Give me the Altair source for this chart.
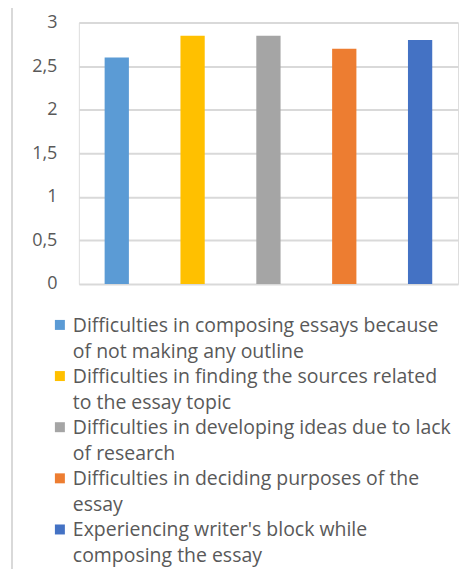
import altair as alt
import pandas as pd

categories = [
    "Difficulties in composing essays because|of not making any outline",
    "Difficulties in finding the sources related|to the essay topic",
    "Difficulties in developing ideas due to lack|of research",
    "Difficulties in deciding purposes of the|essay",
    "Experiencing writer's block while|composing the essay",
]
values = [2.6, 2.85, 2.85, 2.7, 2.8]
colors = ["#5B9BD5", "#FFC000", "#A5A5A5", "#ED7D31", "#4472C4"]
y_ticks = [0, 0.5, 1, 1.5, 2, 2.5, 3]

df = pd.DataFrame({"cat": categories, "value": values})

FONT = "Open Sans"
TXT = "#595959"

bars = alt.Chart(df).mark_bar().encode(
    x=alt.X("cat:N", sort=categories, axis=None,
            scale=alt.Scale(paddingInner=0.68, paddingOuter=0.34)),
    y=alt.Y("value:Q", scale=alt.Scale(domain=[0, 3]),
            axis=alt.Axis(values=y_ticks,
                          labelExpr="replace(format(datum.value, '.1~f'), '.', ',')",
                          title=None, domain=False, ticks=False, labelPadding=22,
                          labelFontSize=18, labelColor=TXT, labelFont=FONT,
                          gridColor="#D9D9D9", gridWidth=2)),
    color=alt.Color("cat:N", sort=categories,
                    scale=alt.Scale(domain=categories, range=colors), legend=None),
)

leg_y = alt.Y("cat:N", sort=categories, axis=None,
              scale=alt.Scale(type="point", range=[303, 508], padding=0))

leg_sq = alt.Chart(df).mark_square(size=100, opacity=1).encode(
    x=alt.value(-19),
    y=leg_y,
    color=alt.Color("cat:N", sort=categories,
                    scale=alt.Scale(domain=categories, range=colors), legend=None),
)

leg_txt = alt.Chart(df).mark_text(
    align="left", baseline="alphabetic", dy=7, lineBreak="|", lineHeight=26,
    font=FONT, fontSize=19.5, color=TXT,
).encode(
    x=alt.value(-6),
    y=leg_y,
    text="cat:N",
)

frame = alt.Chart(pd.DataFrame({"v": [0]})).mark_rule(color="#D9D9D9", strokeWidth=2).encode(
    x=alt.value(-67), y=alt.value(-16), y2=alt.value(600)
)

chart = alt.layer(bars, leg_sq, leg_txt, frame).resolve_scale(y="independent").properties(
    width=380, height=262,
    autosize=alt.AutoSizeParams(type="none"),
    padding={"left": 71, "top": 14, "right": 8, "bottom": 285},
).configure_view(stroke=None).configure(background="white")

chart.save("out.html", embed_options={"renderer": "svg", "actions": False})
